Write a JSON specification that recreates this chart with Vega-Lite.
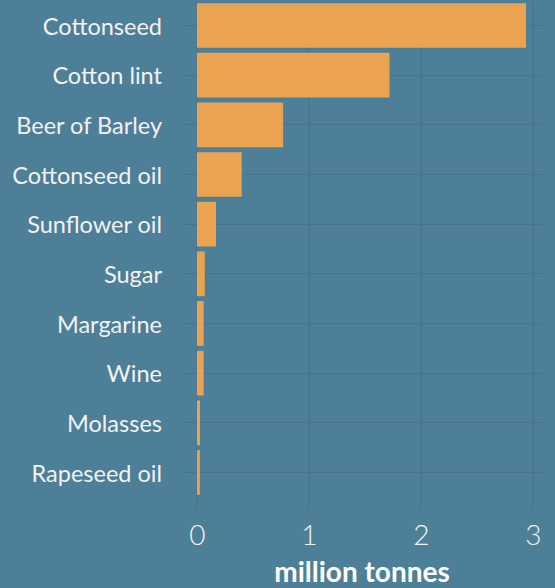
{
  "$schema": "https://vega.github.io/schema/vega-lite/v6.json",
  "autosize": {"type": "none"},
  "padding": {"left": 180.5, "top": 0, "right": 12.5, "bottom": 85},
  "width": 362,
  "height": 503,
  "background": "#4e7f99",
  "config": {
    "view": {"stroke": null},
    "font": "Lato",
    "axis": {"gridColor": "#48738b", "gridWidth": 1.2, "gridOpacity": 1}
  },
  "data": {
    "values": [
      {"item": "Cottonseed", "value": 2.94},
      {"item": "Cotton lint", "value": 1.72},
      {"item": "Beer of Barley", "value": 0.77},
      {"item": "Cottonseed oil", "value": 0.40},
      {"item": "Sunflower oil", "value": 0.17},
      {"item": "Sugar", "value": 0.07},
      {"item": "Margarine", "value": 0.06},
      {"item": "Wine", "value": 0.06},
      {"item": "Molasses", "value": 0.027},
      {"item": "Rapeseed oil", "value": 0.026}
    ]
  },
  "mark": {"type": "bar", "color": "#eaa451"},
  "encoding": {
    "y": {
      "field": "item",
      "type": "nominal",
      "sort": ["Cottonseed", "Cotton lint", "Beer of Barley", "Cottonseed oil", "Sunflower oil", "Sugar", "Margarine", "Wine", "Molasses", "Rapeseed oil"],
      "scale": {"range": [-4.3, 502.3], "paddingInner": 0.1, "paddingOuter": 0.15},
      "axis": {
        "title": null,
        "domain": false,
        "ticks": false,
        "grid": true,
        "labelFontSize": 23.5,
        "labelColor": "#f2f2f2",
        "labelPadding": 19,
        "labelOffset": 2,
        "labelLimit": 300
      }
    },
    "x": {
      "field": "value",
      "type": "quantitative",
      "scale": {"domain": [-0.147, 3.087], "nice": false, "zero": false},
      "axis": {
        "values": [0, 1, 2, 3],
        "title": "million tonnes",
        "titleFontSize": 28,
        "titleFontWeight": "bold",
        "titleColor": "#ffffff",
        "titlePadding": 9,
        "domain": false,
        "ticks": false,
        "grid": true,
        "labelFontSize": 28,
        "labelFontWeight": 300,
        "labelColor": "#f2f2f2",
        "labelPadding": 19
      }
    }
  }
}
